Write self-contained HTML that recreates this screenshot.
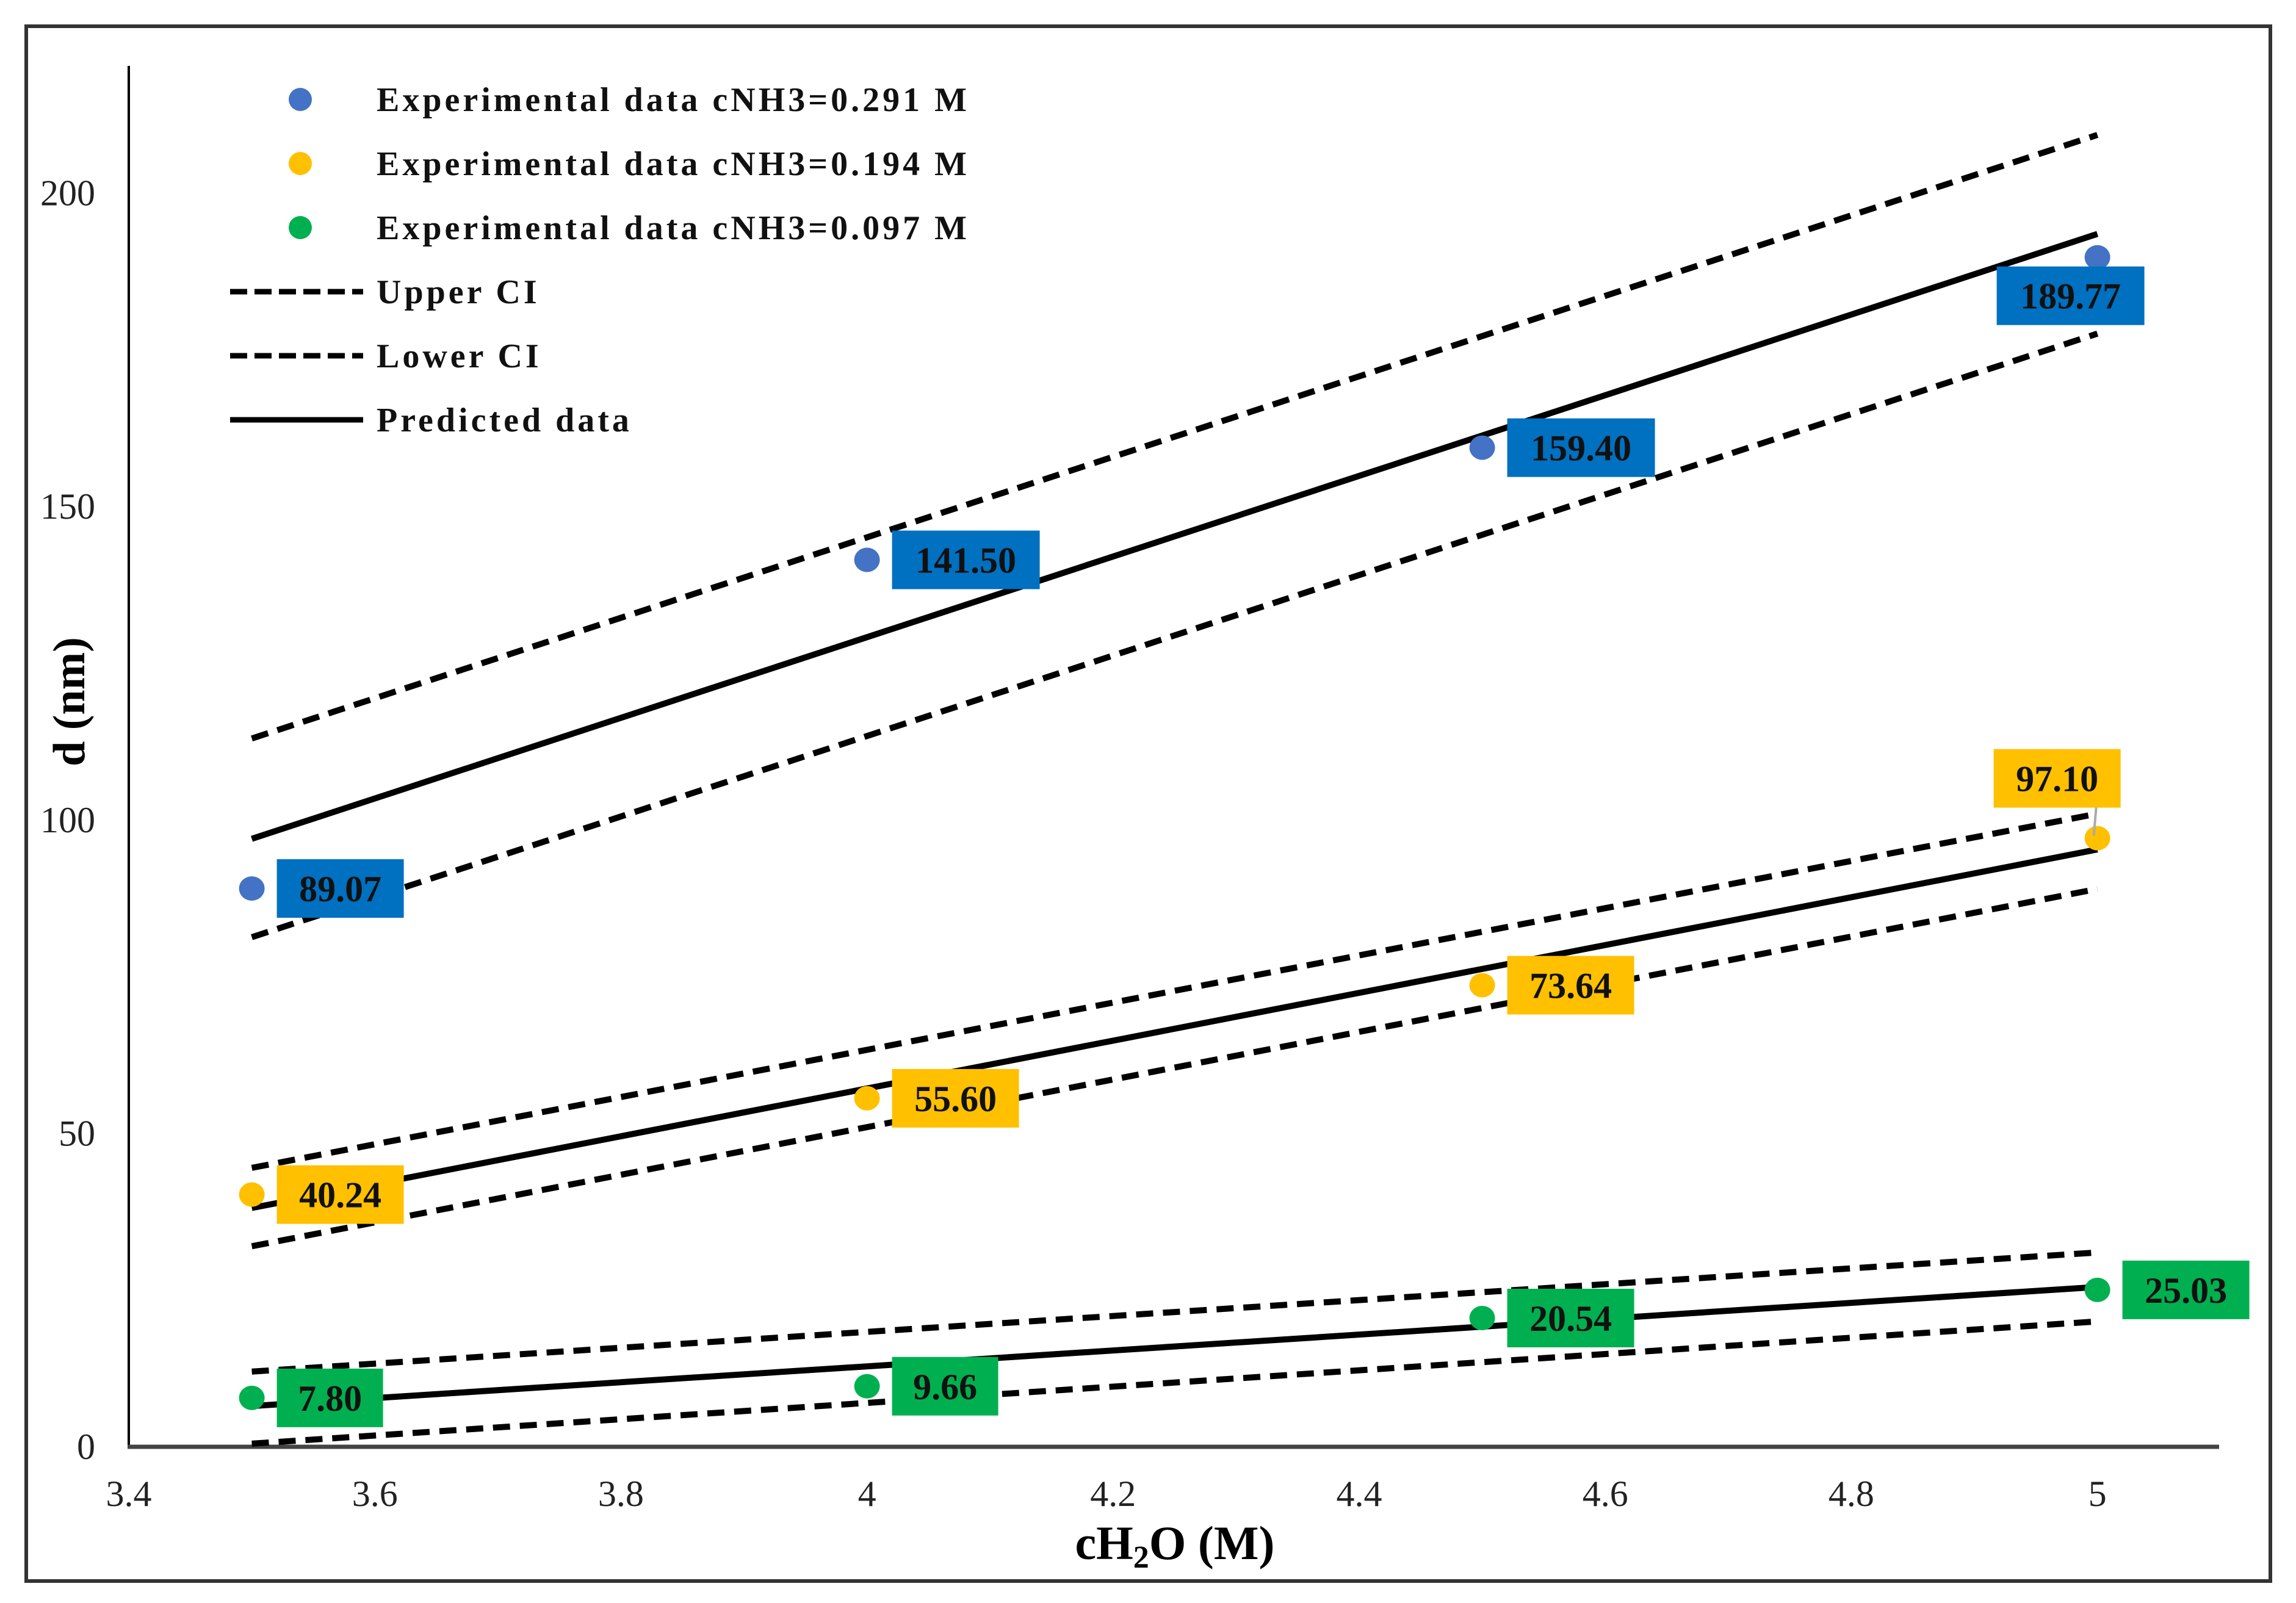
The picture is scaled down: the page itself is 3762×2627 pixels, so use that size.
<!DOCTYPE html>
<html><head><meta charset="utf-8"><style>
html,body{margin:0;padding:0;background:#fff;}
svg{display:block;font-family:"Liberation Serif",serif;}
</style></head><body>
<svg id="chart" width="3762" height="2627" viewBox="0 0 3762 2627">
<rect x="43" y="43" width="3677" height="2548" fill="none" stroke="#333" stroke-width="6"/>
<g id="plot"></g>
</svg>
<script>
const xTicks = [3.4, 3.6, 3.8, 4, 4.2, 4.4, 4.6, 4.8, 5];
const xTickLabels = ["3.4","3.6","3.8","4","4.2","4.4","4.6","4.8","5"];
const yTicks = [0, 50, 100, 150, 200];
const xValues = [3.5, 4, 4.5, 5];
const blueValues = [89.07, 141.50, 159.40, 189.77];
const yellowValues = [40.24, 55.60, 73.64, 97.10];
const greenValues = [7.80, 9.66, 20.54, 25.03];
const blueLabels = ["89.07","141.50","159.40","189.77"];
const yellowLabels = ["40.24","55.60","73.64","97.10"];
const greenLabels = ["7.80","9.66","20.54","25.03"];
const lineX = [3.5, 5];
const bluePred = [97, 193.5];
const blueUpper = [113, 209.3];
const blueLower = [81.3, 177.6];
const yellowPred = [38.1, 95.3];
const yellowUpper = [44.5, 101];
const yellowLower = [32, 89];
const greenPred = [6.5, 25.5];
const greenUpper = [12, 31];
const greenLower = [0.5, 20];

const NS = "http://www.w3.org/2000/svg";
const g = document.getElementById('plot');
function X(v){ return 211 + (v - 3.4) * 2016; }
function Y(v){ return 2371 - v * 10.272; }
function mk(tag, attrs, parent){
  const e = document.createElementNS(NS, tag);
  for (const k in attrs) e.setAttribute(k, attrs[k]);
  (parent || g).appendChild(e);
  return e;
}

let e = mk('line', {x1:211, y1:108, x2:211, y2:2371, stroke:'#000', 'stroke-width':4});


e = mk('line', {x1:209, y1:2371, x2:3636, y2:2371, stroke:'#444', 'stroke-width':7});



yTicks.forEach(function(t){
  const el = mk('text', {x:156, y:Y(t)+20, 'text-anchor':'end', 'font-size':60, fill:'#222'});
  el.textContent = String(t);
  
  
});
xTicks.forEach(function(t, i){
  const el = mk('text', {x:X(t), y:2468, 'text-anchor':'middle', 'font-size':60, fill:'#222'});
  el.textContent = xTickLabels[i];
  
  
});

e = mk('text', {x:1925, y:2555, 'text-anchor':'middle', 'font-size':78, 'font-weight':'bold'});
e.innerHTML = 'cH<tspan font-size="52" dy="14">2</tspan><tspan dy="-14">O (M)</tspan>';


e = mk('text', {x:0, y:0, 'text-anchor':'middle', 'font-size':74, 'font-weight':'bold', transform:'translate(138,1150) rotate(-90)'});
e.textContent = 'd (nm)';



function drawLine(vals, dashed, name){
  const el = mk('line', {x1:X(lineX[0]), y1:Y(vals[0]), x2:X(lineX[1]), y2:Y(vals[1]), stroke:'#000', 'stroke-width':10, 'stroke-dasharray': dashed ? '28,16' : 'none', 'stroke-linecap':'butt'});
  
  
}
drawLine(bluePred, false, 'predicted-line-0291');
drawLine(blueUpper, true, 'upper-ci-0291');
drawLine(blueLower, true, 'lower-ci-0291');
drawLine(yellowPred, false, 'predicted-line-0194');
drawLine(yellowUpper, true, 'upper-ci-0194');
drawLine(yellowLower, true, 'lower-ci-0194');
drawLine(greenPred, false, 'predicted-line-0097');
drawLine(greenUpper, true, 'upper-ci-0097');
drawLine(greenLower, true, 'lower-ci-0097');

function drawPoints(vals, color, name){
  vals.forEach(function(v, i){
    const el = mk('ellipse', {cx:X(xValues[i]), cy:Y(v), rx:21, ry:20, fill:color});
    
    
  });
}
drawPoints(blueValues, '#4472C4', 'point-0291');
drawPoints(yellowValues, '#FFC000', 'point-0194');
drawPoints(greenValues, '#00B050', 'point-0097');

function drawLabels(vals, labels, color, name, special){
  vals.forEach(function(v, i){
    const w = labels[i].length * 34 + 38, h = 96;
    const px = X(xValues[i]), py = Y(v);
    let bx = px + 41, by = py - h/2;
    if (special[i] === 'below') { bx = px - 165; by = py + 15; }
    if (special[i] === 'above') { bx = px - 170; by = py - 146; }
    if (special[i] === 'above') {
      const ld = mk('line', {x1:bx + w - 40, y1:by + h, x2:px - 6, y2:py - 4, stroke:'#aaa', 'stroke-width':4});
      
      
    }
    const r = mk('rect', {x:bx, y:by, width:w, height:h, fill:color});
    
    
    const t = mk('text', {x:bx + w/2, y:by + h/2 + 21, 'text-anchor':'middle', 'font-size':60, 'font-weight':'bold', fill:'#111'});
    t.textContent = labels[i];
    
    
  });
}
drawLabels(blueValues, blueLabels, '#0070C0', 'data-label-0291', ['', '', '', 'below']);
drawLabels(yellowValues, yellowLabels, '#FFC000', 'data-label-0194', ['', '', '', 'above']);
drawLabels(greenValues, greenLabels, '#00B050', 'data-label-0097', ['', '', '', '']);

const legendTexts = ['Experimental data cNH3=0.291 M','Experimental data cNH3=0.194 M','Experimental data cNH3=0.097 M','Upper CI','Lower CI','Predicted data'];
const legendColors = ['#4472C4','#FFC000','#00B050'];
legendTexts.forEach(function(txt, i){
  const cy = 163 + i * 105;
  if (i < 3) {
    const m = mk('ellipse', {cx:492, cy:cy, rx:19, ry:19, fill:legendColors[i]});
    
    
  } else {
    const l = mk('line', {x1:377, y1:cy, x2:595, y2:cy, stroke:'#000', 'stroke-width':9, 'stroke-dasharray': i < 5 ? '28,12' : 'none'});
    
    
  }
  const t = mk('text', {x:617, y:cy + 19, 'font-size':56, 'font-weight':'bold', fill:'#111', 'letter-spacing':'5'});
  t.textContent = txt;
  
  
});
</script>
</body></html>
